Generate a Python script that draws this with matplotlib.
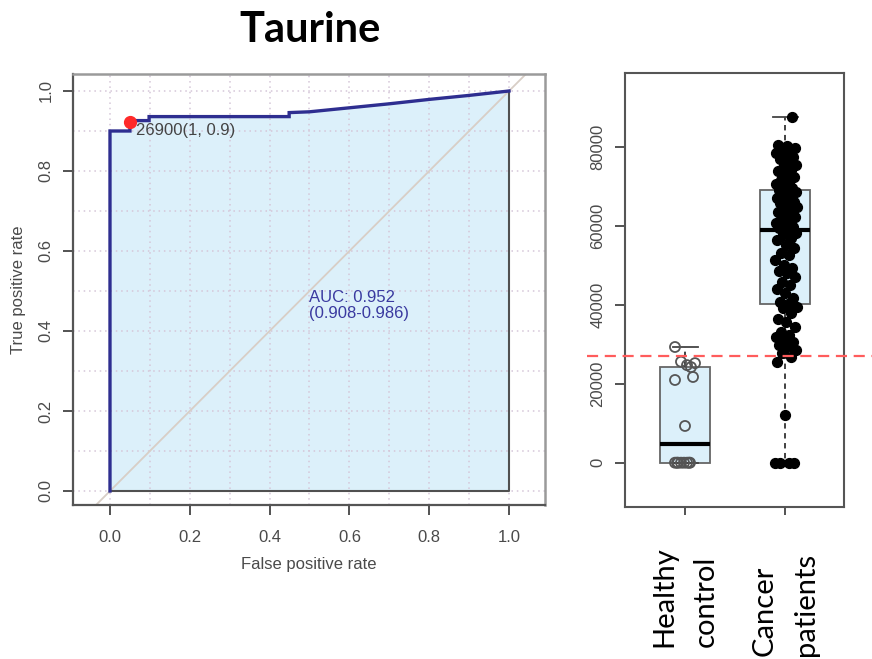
import numpy as np
import matplotlib
matplotlib.use("Agg")
import matplotlib.pyplot as plt
from matplotlib.transforms import blended_transform_factory, offset_copy

# ---------------- data ----------------
title = "Taurine"
roc_fpr = [0.0, 0.0, 0.05, 0.05, 0.098, 0.098, 0.449, 0.449, 0.5, 0.6, 0.7, 0.8, 0.9, 1.0]
roc_tpr = [0.0, 0.9, 0.9, 0.926, 0.926, 0.936, 0.936, 0.946, 0.948, 0.958, 0.968, 0.979, 0.989, 1.0]
cutoff_point = (0.05, 0.923)
cutoff_label = "26900(1, 0.9)"
auc_label = "AUC: 0.952\n(0.908-0.986)"
roc_ticks = [0.0, 0.2, 0.4, 0.6, 0.8, 1.0]
roc_tick_labels = ["0.0", "0.2", "0.4", "0.6", "0.8", "1.0"]

groups = ["Healthy\ncontrol", "Cancer\npatients"]
healthy = [0, 0, 0, 0, 0, 0, 0, 0, 9300, 20940, 21700, 24200, 24700, 25200, 25570, 29290]
cancer = [0, 0, 0, 0, 12100, 25600, 26800, 27700, 28500, 29300, 29800, 30600, 31100,
          31900, 32300, 33200, 34400, 35500, 36500, 37800, 39100, 39500,
          40300, 40800, 41600, 42900, 44100, 45000, 45800, 47100, 47900, 48500, 49200,
          50000, 51300, 52600, 53000, 54300, 55100, 56400, 57000, 57600, 58100, 58500,
          59400, 59700, 60200, 60800, 61000, 61700, 62300, 63100, 63500, 63800, 64000,
          64800, 65300, 65700, 66000, 66500, 67000, 67800, 68200, 68600, 68800, 69000,
          69500, 69900, 70500, 71000, 71600, 72300, 73200, 73800, 74100, 74500, 75300,
          76200, 77000, 77500, 77900, 78400, 79000, 79300, 79600, 80170, 80500, 87400]
cutoff_value = 26900
box_ticks = [0, 20000, 40000, 60000, 80000]
box_tick_labels = ["0", "20000", "40000", "60000", "80000"]

healthy_jitter = [-0.10, -0.07, -0.04, -0.01, 0.02, 0.05, -0.08, 0.04,
                  0.0, -0.10, 0.08, 0.06, 0.02, 0.10, -0.04, -0.10]

# ---------------- figure ----------------
W, H = 872, 659
fig = plt.figure(figsize=(W / 100, H / 100), dpi=100)
R_FONT = "Liberation Sans"
TXT = "#4a4a4a"

def frac(l, r, t, b):
    return [l / W, 1 - b / H, (r - l) / W, (b - t) / H]

# ---- ROC panel ----
ax = fig.add_axes(frac(73, 545, 74, 505))
ax.set_xlim(-0.0927, 1.0902)
ax.set_ylim(-0.035, 1.0425)

poly_x = roc_fpr + [1.0]
poly_y = roc_tpr + [0.0]
ax.fill(poly_x, poly_y, facecolor="#dcf0fa", edgecolor="none", zorder=1)
for v in np.arange(0, 1.01, 0.1):
    ax.axvline(v, color="#d5c6d8", ls=(0, (1, 2.5)), lw=1.1, zorder=2)
    ax.axhline(v, color="#d5c6d8", ls=(0, (1, 2.5)), lw=1.1, zorder=2)
ax.axline((0, 0), (1, 1), color="#d8cec6", lw=1.3, zorder=2)
ax.plot([roc_fpr[-1], 1.0, roc_fpr[0]], [roc_tpr[-1], 0.0, roc_tpr[0]],
        color="#505050", lw=1.5, zorder=3)
ax.plot(roc_fpr, roc_tpr, color="#2e2e90", lw=2.4, zorder=3, solid_joinstyle="miter")
ax.plot([cutoff_point[0]], [cutoff_point[1]], "o", color="#ff2a2a", ms=8.5, zorder=4)
ax.text(cutoff_point[0] + 0.015, 0.9, cutoff_label, ha="left", va="center",
        fontsize=12, color="#444444", family=R_FONT, zorder=5)
ax.text(0.50, 0.463, auc_label, ha="left", va="center", fontsize=12, color="#3a3aa0",
        family=R_FONT, linespacing=1.05, zorder=5)

ax.set_xticks(roc_ticks)
ax.set_xticklabels(roc_tick_labels)
ax.set_yticks(roc_ticks)
ax.set_yticklabels(roc_tick_labels, rotation=90, va="center")
ax.tick_params(axis="x", length=7, width=1.3, color="#444444", pad=11,
               labelsize=12, labelcolor=TXT)
ax.tick_params(axis="y", length=7, width=1.3, color="#444444", pad=7,
               labelsize=12, labelcolor=TXT)
for lab in ax.get_xticklabels() + ax.get_yticklabels():
    lab.set_family(R_FONT)
for s in ["left", "bottom"]:
    ax.spines[s].set_color("#555555")
    ax.spines[s].set_linewidth(1.6)
for s in ["top", "right"]:
    ax.spines[s].set_color("#9a9a9a")
    ax.spines[s].set_linewidth(1.8)
ax.set_xlabel("False positive rate", fontsize=12, color=TXT, family=R_FONT, labelpad=9)
ax.set_ylabel("True positive rate", fontsize=12, color=TXT, family=R_FONT, labelpad=9)

fig.text(310 / W, 1 - 30 / H, title, ha="center", va="center", fontsize=30,
         fontweight="bold", family="Lato", color="black")

# ---- Box panel ----
ax2 = fig.add_axes(frac(625, 844, 73, 507))
ax2.set_xlim(0.4, 2.59)
ax2.set_ylim(-11215, 98660)
bp = ax2.boxplot([healthy, cancer], positions=[1, 2], widths=0.5, patch_artist=True,
                 showfliers=False, capwidths=0.25,
                 boxprops=dict(facecolor="#dcf0fa", edgecolor="#666666", lw=1.3),
                 medianprops=dict(color="black", lw=3),
                 whiskerprops=dict(color="#333333", ls=(0, (3, 2.5)), lw=1.3),
                 capprops=dict(color="#444444", lw=1.3))
ax2.scatter(1 + np.array(healthy_jitter), healthy, s=52, facecolors="none",
            edgecolors="#555555", linewidths=1.3, zorder=4)
n = len(cancer)
cj = ((np.arange(n) * 0.618034) % 1 - 0.45) * 0.22
ax2.scatter(2 + cj, cancer, s=50, color="black", zorder=4)
ax2.plot([0.02, 2.87], [cutoff_value, cutoff_value], color="#ff5c5c", lw=1.6,
         ls=(0, (5, 3)), clip_on=False, zorder=6)

ax2.set_yticks(box_ticks)
ax2.set_yticklabels(box_tick_labels, rotation=90, va="center")
ax2.set_xticks([1, 2])
ax2.set_xticklabels(["", ""])
ax2.tick_params(axis="y", length=7, width=1.3, color="#444444", pad=7,
                labelsize=12, labelcolor=TXT)
ax2.tick_params(axis="x", length=6, width=1.3, color="#444444")
for lab in ax2.get_yticklabels():
    lab.set_family(R_FONT)
for s in ax2.spines.values():
    s.set_color("#555555")
    s.set_linewidth(1.5)

trans = blended_transform_factory(ax2.transData, fig.transFigure)
bottoms = [647, 656]
for i, lab in enumerate(groups):
    lines = lab.split("\n")
    for j, line in enumerate(lines):
        t = offset_copy(trans, fig=fig, x=(j - 0.5) * 41, y=0, units="dots")
        ax2.text(i + 1, 1 - bottoms[i] / H, line, transform=t, rotation=90,
                 ha="center", va="bottom", fontsize=21, family="Lato", color="black")

fig.savefig("out.png", dpi=100)
